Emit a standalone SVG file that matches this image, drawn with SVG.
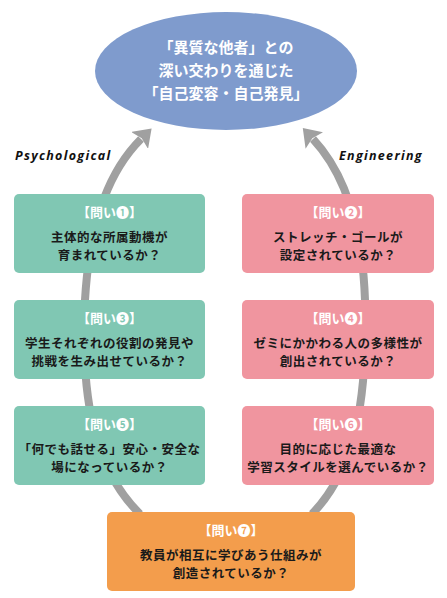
<svg xmlns="http://www.w3.org/2000/svg" width="447" height="598" viewBox="0 0 447 598">
<style>
.conn{fill:none;stroke:#a0a0a0;stroke-width:8}
.g{fill:#80c7b3}
.p{fill:#f0959f}
.o{fill:#f39d4c}
.hd{font-family:"Noto Sans CJK JP","Noto Sans",sans-serif;font-weight:bold;font-size:13px;fill:#ffffff;text-anchor:middle}
.tx{font-family:"Noto Sans CJK JP","Noto Sans",sans-serif;font-weight:bold;font-size:12.5px;fill:#1a1a1a;text-anchor:middle;letter-spacing:0.5px}
.el{font-family:"Noto Sans CJK JP","Noto Sans",sans-serif;font-weight:bold;font-size:15px;fill:#ffffff;text-anchor:middle}
.lab{font-family:"Open Sans","DejaVu Sans",sans-serif;font-weight:bold;font-style:italic;font-size:12.5px;fill:#111111;letter-spacing:1.3px}
</style>
<defs>
<marker id="ah" viewBox="0 0 17 24" refX="2" refY="12" markerWidth="17" markerHeight="24" markerUnits="userSpaceOnUse" orient="auto">
<path d="M0,0 L17,12 L0,24 L3,12 z" fill="#a0a0a0"/>
</marker>
</defs>
<rect width="447" height="598" fill="#ffffff"/>
<g id="connectors">
<path class="conn" d="M140,514 C95,470 80,400 85,300 C90,215 112,168 141,139" marker-end="url(#ah)"/>
<path class="conn" d="M312,514 C355,470 368,400 365,300 C362,215 340,168 313,139" marker-end="url(#ah)"/>
</g>
<g id="goal">
<ellipse cx="226" cy="71" rx="131" ry="59" fill="#7f9bcd"/>
<text class="el" x="226" y="53">「異質な他者」との</text>
<text class="el" x="226" y="76">深い交わりを通じた</text>
<text class="el" x="226" y="99">「自己変容・自己発見」</text>
</g>
<text class="lab" x="15" y="160">Psychological</text>
<text class="lab" x="339" y="160">Engineering</text>
<g id="q1">
<rect class="g" x="14" y="194" width="191" height="79" rx="5"/>
<text class="hd" x="109.5" y="217">【問い❶】</text>
<text class="tx" x="109.5" y="242">主体的な所属動機が</text>
<text class="tx" x="109.5" y="260">育まれているか？</text>
</g>
<g id="q2">
<rect class="p" x="242" y="194" width="192" height="79" rx="5"/>
<text class="hd" x="338" y="217">【問い❷】</text>
<text class="tx" x="338" y="242">ストレッチ・ゴールが</text>
<text class="tx" x="338" y="260">設定されているか？</text>
</g>
<g id="q3">
<rect class="g" x="14" y="300" width="191" height="79" rx="5"/>
<text class="hd" x="109.5" y="323">【問い❸】</text>
<text class="tx" x="109.5" y="348">学生それぞれの役割の発見や</text>
<text class="tx" x="109.5" y="366">挑戦を生み出せているか？</text>
</g>
<g id="q4">
<rect class="p" x="242" y="300" width="192" height="79" rx="5"/>
<text class="hd" x="338" y="323">【問い❹】</text>
<text class="tx" x="338" y="348">ゼミにかかわる人の多様性が</text>
<text class="tx" x="338" y="366">創出されているか？</text>
</g>
<g id="q5">
<rect class="g" x="14" y="406" width="191" height="79" rx="5"/>
<text class="hd" x="109.5" y="429">【問い❺】</text>
<text class="tx" x="109.5" y="454">「何でも話せる」安心・安全な</text>
<text class="tx" x="109.5" y="472">場になっているか？</text>
</g>
<g id="q6">
<rect class="p" x="242" y="406" width="192" height="79" rx="5"/>
<text class="hd" x="338" y="429">【問い❻】</text>
<text class="tx" x="338" y="454">目的に応じた最適な</text>
<text class="tx" x="338" y="472">学習スタイルを選んでいるか？</text>
</g>
<g id="q7">
<rect class="o" x="107" y="512" width="248" height="79" rx="5"/>
<text class="hd" x="231" y="535">【問い❼】</text>
<text class="tx" x="231" y="560">教員が相互に学びあう仕組みが</text>
<text class="tx" x="231" y="578">創造されているか？</text>
</g>
</svg>
